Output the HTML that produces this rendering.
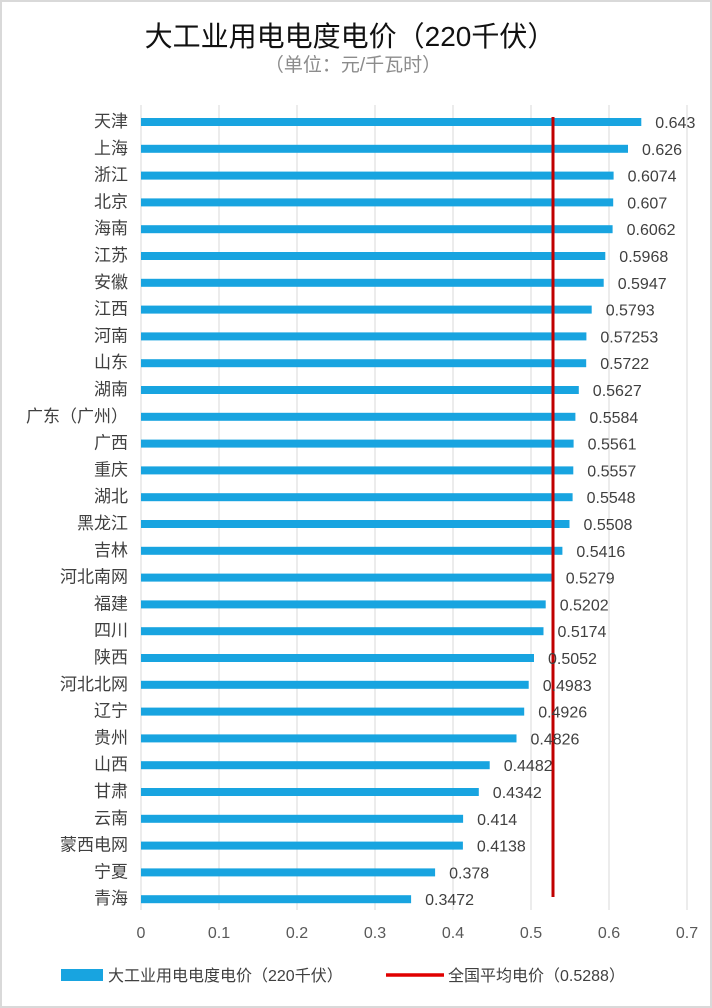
<!DOCTYPE html>
<html><head><meta charset="utf-8"><style>
html,body{margin:0;padding:0;background:#fff}
svg{display:block}
text{font-family:"Liberation Sans","Noto Sans CJK SC",sans-serif}
</style></head><body>
<svg width="712" height="1008" viewBox="0 0 712 1008" xmlns="http://www.w3.org/2000/svg">
<rect x="1" y="1" width="710" height="1006" fill="#fff" stroke="#d9d9d9" stroke-width="2"/>
<text x="350" y="46" font-size="28" text-anchor="middle" fill="#111">大工业用电电度电价（220千伏）</text>
<text x="353" y="71" font-size="19" text-anchor="middle" fill="#8c8c8c">（单位：元/千瓦时）</text>
<g stroke="#d9d9d9" stroke-width="1">
<line x1="141" y1="105" x2="141" y2="910"/><line x1="219" y1="105" x2="219" y2="910"/>
<line x1="297" y1="105" x2="297" y2="910"/><line x1="375" y1="105" x2="375" y2="910"/>
<line x1="453" y1="105" x2="453" y2="910"/><line x1="531" y1="105" x2="531" y2="910"/>
<line x1="609" y1="105" x2="609" y2="910"/><line x1="687" y1="105" x2="687" y2="910"/>
</g>
<g font-size="16" fill="#595959" text-anchor="middle">
<text x="141" y="938">0</text><text x="219" y="938">0.1</text><text x="297" y="938">0.2</text><text x="375" y="938">0.3</text><text x="453" y="938">0.4</text><text x="531" y="938">0.5</text><text x="609" y="938">0.6</text><text x="687" y="938">0.7</text>
</g>
<g fill="#18a4e0">
<rect x="141" y="118" width="500.3" height="8"/>
<rect x="141" y="144.8" width="487.0" height="8"/>
<rect x="141" y="171.6" width="472.6" height="8"/>
<rect x="141" y="198.4" width="472.2" height="8"/>
<rect x="141" y="225.2" width="471.6" height="8"/>
<rect x="141" y="252" width="464.3" height="8"/>
<rect x="141" y="278.8" width="462.7" height="8"/>
<rect x="141" y="305.6" width="450.7" height="8"/>
<rect x="141" y="332.4" width="445.4" height="8"/>
<rect x="141" y="359.2" width="445.2" height="8"/>
<rect x="141" y="386" width="437.8" height="8"/>
<rect x="141" y="412.8" width="434.4" height="8"/>
<rect x="141" y="439.6" width="432.6" height="8"/>
<rect x="141" y="466.4" width="432.3" height="8"/>
<rect x="141" y="493.2" width="431.6" height="8"/>
<rect x="141" y="520" width="428.5" height="8"/>
<rect x="141" y="546.8" width="421.4" height="8"/>
<rect x="141" y="573.6" width="410.7" height="8"/>
<rect x="141" y="600.4" width="404.7" height="8"/>
<rect x="141" y="627.2" width="402.5" height="8"/>
<rect x="141" y="654" width="393.0" height="8"/>
<rect x="141" y="680.8" width="387.7" height="8"/>
<rect x="141" y="707.6" width="383.2" height="8"/>
<rect x="141" y="734.4" width="375.5" height="8"/>
<rect x="141" y="761.2" width="348.7" height="8"/>
<rect x="141" y="788" width="337.8" height="8"/>
<rect x="141" y="814.8" width="322.1" height="8"/>
<rect x="141" y="841.6" width="321.9" height="8"/>
<rect x="141" y="868.4" width="294.1" height="8"/>
<rect x="141" y="895.2" width="270.1" height="8"/>
</g>
<g font-size="17" fill="#404040" text-anchor="end">
<text x="128" y="127">天津</text>
<text x="128" y="153.8">上海</text>
<text x="128" y="180.6">浙江</text>
<text x="128" y="207.4">北京</text>
<text x="128" y="234.2">海南</text>
<text x="128" y="261">江苏</text>
<text x="128" y="287.8">安徽</text>
<text x="128" y="314.6">江西</text>
<text x="128" y="341.4">河南</text>
<text x="128" y="368.2">山东</text>
<text x="128" y="395">湖南</text>
<text x="128" y="421.8">广东（广州）</text>
<text x="128" y="448.6">广西</text>
<text x="128" y="475.4">重庆</text>
<text x="128" y="502.2">湖北</text>
<text x="128" y="529">黑龙江</text>
<text x="128" y="555.8">吉林</text>
<text x="128" y="582.6">河北南网</text>
<text x="128" y="609.4">福建</text>
<text x="128" y="636.2">四川</text>
<text x="128" y="663">陕西</text>
<text x="128" y="689.8">河北北网</text>
<text x="128" y="716.6">辽宁</text>
<text x="128" y="743.4">贵州</text>
<text x="128" y="770.2">山西</text>
<text x="128" y="797">甘肃</text>
<text x="128" y="823.8">云南</text>
<text x="128" y="850.6">蒙西电网</text>
<text x="128" y="877.4">宁夏</text>
<text x="128" y="904.2">青海</text>
</g>
<line x1="553" y1="117" x2="553" y2="897" stroke="#c00000" stroke-width="3"/>
<g font-size="16" fill="#404040">
<text x="655.3" y="128">0.643</text>
<text x="642.0" y="154.8">0.626</text>
<text x="627.6" y="181.6">0.6074</text>
<text x="627.2" y="208.4">0.607</text>
<text x="626.6" y="235.2">0.6062</text>
<text x="619.3" y="262">0.5968</text>
<text x="617.7" y="288.8">0.5947</text>
<text x="605.7" y="315.6">0.5793</text>
<text x="600.4" y="342.4">0.57253</text>
<text x="600.2" y="369.2">0.5722</text>
<text x="592.8" y="396">0.5627</text>
<text x="589.4" y="422.8">0.5584</text>
<text x="587.6" y="449.6">0.5561</text>
<text x="587.3" y="476.4">0.5557</text>
<text x="586.6" y="503.2">0.5548</text>
<text x="583.5" y="530">0.5508</text>
<text x="576.4" y="556.8">0.5416</text>
<text x="565.7" y="583.6">0.5279</text>
<text x="559.7" y="610.4">0.5202</text>
<text x="557.5" y="637.2">0.5174</text>
<text x="548.0" y="664">0.5052</text>
<text x="542.7" y="690.8">0.4983</text>
<text x="538.2" y="717.6">0.4926</text>
<text x="530.5" y="744.4">0.4826</text>
<text x="503.7" y="771.2">0.4482</text>
<text x="492.8" y="798">0.4342</text>
<text x="477.1" y="824.8">0.414</text>
<text x="476.9" y="851.6">0.4138</text>
<text x="449.1" y="878.4">0.378</text>
<text x="425.1" y="905.2">0.3472</text>
</g>
<rect x="61" y="969" width="42" height="12" fill="#18a4e0"/>
<text x="108" y="981" font-size="16" fill="#404040">大工业用电电度电价（220千伏）</text>
<line x1="386" y1="975" x2="444" y2="975" stroke="#e00000" stroke-width="3.5"/>
<text x="448" y="981" font-size="16" fill="#404040">全国平均电价（0.5288）</text>
</svg>
</body></html>
